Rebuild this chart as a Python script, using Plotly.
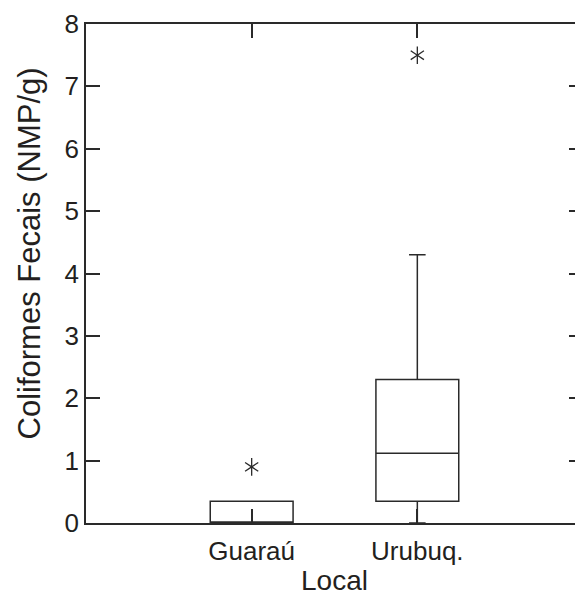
import plotly.graph_objects as go

# Box statistics (NMP/g)
locais = ["Guaraú", "Urubuq."]
pos = [1, 2]
q1 = [0.0, 0.35]
mediana = [0.0, 1.12]
q3 = [0.35, 2.3]
lim_inf = [0.0, 0.0]
lim_sup = [0.35, 4.3]
outliers = [[0.9], [7.5]]

ink = "#2a2a2a"
txt = "#231f20"
fam = "Liberation Sans, Arial, sans-serif"
font = dict(family=fam, size=26, color=txt)
font_t = dict(family=fam, size=28, color=txt)
font_y = dict(family=fam, size=31, color=txt)

fig = go.Figure()
for i in range(len(locais)):
    fig.add_trace(go.Box(
        x=[pos[i]], q1=[q1[i]], median=[mediana[i]], q3=[q3[i]],
        lowerfence=[lim_inf[i]], upperfence=[lim_sup[i]],
        width=0.5, whiskerwidth=0.2,
        line=dict(color=ink, width=1.5), fillcolor="rgba(0,0,0,0)",
        boxpoints=False, showlegend=False,
    ))
    # six-armed asterisk: two overlaid "Y" symbols
    for sym in ["y-up-open", "y-down-open"]:
        fig.add_trace(go.Scatter(
            x=[pos[i]] * len(outliers[i]), y=outliers[i], mode="markers",
            marker=dict(symbol=sym, size=11, color=ink, line=dict(color=ink, width=1.3)),
            showlegend=False,
        ))

# invisible trace to carry right-side ticks
fig.add_trace(go.Scatter(x=[pos[0]], y=[0], yaxis="y2", mode="markers",
                         marker=dict(opacity=0), showlegend=False, hoverinfo="skip"))

# page body adds an 8px margin, so the figure is shrunk by that amount
fig.update_layout(
    width=575, height=588,
    margin=dict(l=78, r=0, t=16, b=73, autoexpand=False),
    paper_bgcolor="white", plot_bgcolor="white",
    font=font,
    xaxis=dict(
        range=[0, 3], tickvals=pos, ticktext=locais, automargin=False,
        showline=True, linecolor=ink, linewidth=1.5, mirror="ticks",
        ticks="inside", ticklen=14, tickcolor=ink, tickwidth=1.5,
        showgrid=False, zeroline=False, tickfont=font, ticklabelstandoff=4,
        title=dict(text="Local", standoff=8, font=font_t),
    ),
    yaxis=dict(
        range=[0, 8], tickvals=list(range(9)), automargin=False,
        showline=True, linecolor=ink, linewidth=1.5, mirror=False,
        ticks="inside", ticklen=14, tickcolor=ink, tickwidth=1.5,
        showgrid=False, zeroline=False, ticklabelstandoff=0, tickfont=font,
    ),
    yaxis2=dict(
        range=[0, 8], tickvals=list(range(9)), overlaying="y", side="right",
        showline=False, showticklabels=False, showgrid=False, zeroline=False,
        ticks="inside", ticklen=14, tickcolor=ink, tickwidth=1.5, automargin=False,
    ),
    annotations=[dict(
        text="Coliformes Fecais (NMP/g)", font=font_y, textangle=-90,
        xref="paper", yref="paper", x=0, y=0.5, xanchor="center", yanchor="middle",
        xshift=-57, yshift=20, showarrow=False,
    )],
)

fig.write_html("out.html")
